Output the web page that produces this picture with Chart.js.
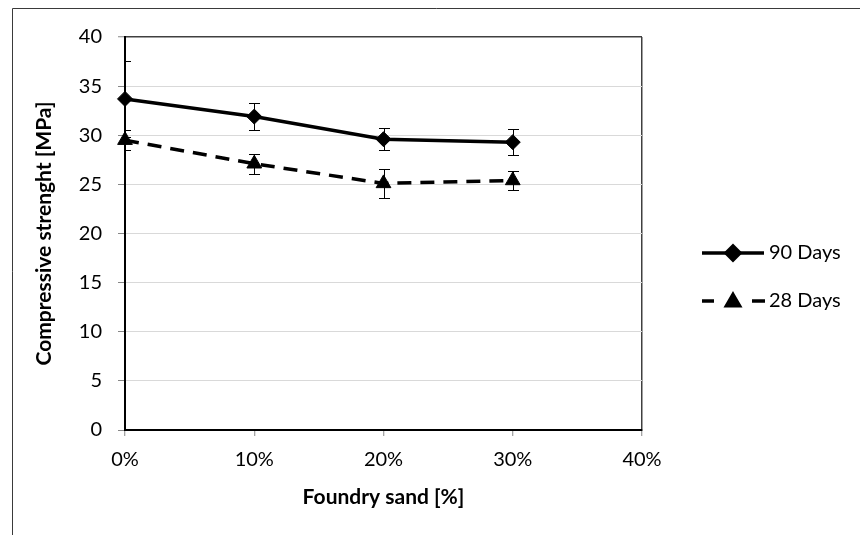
<!DOCTYPE html>
<html>
<head>
<meta charset="utf-8">
<script src="https://cdn.jsdelivr.net/npm/chart.js@4.4.0/dist/chart.umd.min.js"></script>
<style>
  html, body { margin: 0; padding: 0; background: #fff; }
  canvas { display: block; }
</style>
</head>
<body>
<canvas id="grafica" width="860" height="535"></canvas>
<script>
// foundry sand content (fraction) and tick labels
var arena = [0, 0.1, 0.2, 0.3];
var etiquetasX = ['0%', '10%', '20%', '30%', '40%'];

// compressive strength [MPa] and error bars
var dias90 = [33.7, 31.9, 29.6, 29.3];
var error90 = [3.9, 1.4, 1.15, 1.35];
var dias28 = [29.5, 27.1, 25.1, 25.4];
var error28 = [1.0, 1.0, 1.5, 1.0];

var fuente = 'Lato, "Open Sans", sans-serif';

function puntos(valores, errores) {
    return arena.map(function (x, i) {
        return { x: x, y: valores[i], err: errores[i] };
    });
}

// error bars, clipped to the plot area like in the original
var barrasError = {
    id: 'barrasError',
    afterDatasetsDraw: function (chart) {
        var ctx = chart.ctx;
        var area = chart.chartArea;
        var xs = chart.scales.x, ys = chart.scales.y;
        ctx.save();
        ctx.beginPath();
        ctx.rect(area.left, area.top, area.right - area.left, area.bottom - area.top);
        ctx.clip();
        ctx.strokeStyle = '#000';
        ctx.lineWidth = 1;
        chart.data.datasets.forEach(function (ds) {
            ds.data.forEach(function (p) {
                var px = Math.round(xs.getPixelForValue(p.x)) + 0.5;
                var y1 = Math.round(ys.getPixelForValue(p.y + p.err)) + 0.5;
                var y2 = Math.round(ys.getPixelForValue(p.y - p.err)) + 0.5;
                ctx.beginPath();
                ctx.moveTo(px, y1); ctx.lineTo(px, y2);
                ctx.moveTo(px - 5.5, y1); ctx.lineTo(px + 5.5, y1);
                ctx.moveTo(px - 5.5, y2); ctx.lineTo(px + 5.5, y2);
                ctx.stroke();
            });
        });
        ctx.restore();
    }
};

// legend on the right (line + marker + line) and the outer frame
var leyenda = {
    id: 'leyenda',
    afterDraw: function (chart) {
        var ctx = chart.ctx;
        var filas = [253, 301];
        ctx.save();
        chart.data.datasets.forEach(function (ds, i) {
            var y = filas[i];
            ctx.strokeStyle = '#000';
            ctx.lineWidth = 3.5;
            ctx.beginPath();
            if (ds.borderDash && ds.borderDash.length) {
                ctx.moveTo(702, y); ctx.lineTo(714, y);
                ctx.moveTo(752, y); ctx.lineTo(765, y);
            } else {
                ctx.moveTo(702, y); ctx.lineTo(764, y);
            }
            ctx.stroke();
            Chart.helpers.drawPoint(ctx, {
                pointStyle: ds.pointStyle,
                radius: ds.pointStyle === 'triangle' ? 7.5 : 7,
                borderWidth: 1
            }, 733, y + (ds.pointStyle === 'triangle' ? 1 : 0));
            ctx.fillStyle = '#000';
            ctx.font = '20px ' + fuente;
            ctx.textBaseline = 'middle';
            ctx.textAlign = 'left';
            ctx.fillText(ds.label, 769, y);
        });
        // outer frame
        ctx.strokeStyle = '#3a3a3a';
        ctx.lineWidth = 1;
        ctx.beginPath();
        ctx.moveTo(12.5, 535);
        ctx.lineTo(12.5, 8.5);
        ctx.lineTo(860, 8.5);
        ctx.stroke();
        ctx.restore();
    }
};

var ctx = document.getElementById('grafica').getContext('2d');
var grafica = new Chart(ctx, {
    type: 'line',
    data: {
        datasets: [{
            label: '90 Days',
            data: puntos(dias90, error90),
            borderColor: '#000',
            backgroundColor: '#000',
            borderWidth: 3.5,
            pointStyle: 'rectRot',
            pointRadius: 7.5,
            pointBackgroundColor: '#000',
            pointBorderColor: '#000',
            pointBorderWidth: 1,
            clip: false
        }, {
            label: '28 Days',
            data: puntos(dias28, error28),
            borderColor: '#000',
            backgroundColor: '#000',
            borderWidth: 3.5,
            borderDash: [14, 9],
            pointStyle: 'triangle',
            pointRadius: 8.5,
            pointBackgroundColor: '#000',
            pointBorderColor: '#000',
            pointBorderWidth: 1,
            clip: false
        }]
    },
    options: {
        responsive: false,
        animation: false,
        devicePixelRatio: 1,
        layout: { padding: { top: 37, right: 218, left: 0, bottom: 0 } },
        plugins: {
            legend: { display: false },
            tooltip: { enabled: false }
        },
        scales: {
            x: {
                type: 'linear',
                min: 0,
                max: 0.4,
                afterFit: function (s) { s.height = 105; },
                afterBuildTicks: function (s) {
                    s.ticks = etiquetasX.map(function (t, i) { return { value: i / 10 }; });
                },
                ticks: {
                    color: '#000',
                    font: { family: fuente, size: 20 },
                    padding: 12,
                    maxRotation: 0,
                    callback: function (v, i) { return etiquetasX[i]; }
                },
                grid: {
                    color: function (c) { return c.tick && c.tick.value === 0.4 ? '#404040' : 'rgba(0,0,0,0)'; },
                    lineWidth: 1.5,
                    tickColor: '#868686',
                    tickLength: 6,
                    tickWidth: 1
                },
                border: { display: true, color: '#000', width: 2 },
                title: {
                    display: true,
                    text: 'Foundry sand [%]',
                    color: '#000',
                    font: { family: fuente, size: 21, weight: 'bold' },
                    padding: { top: 0, bottom: 25 }
                }
            },
            y: {
                min: 0,
                max: 40,
                afterFit: function (s) { s.width = 125; },
                ticks: {
                    stepSize: 5,
                    color: '#000',
                    font: { family: fuente, size: 20 },
                    padding: 16
                },
                grid: {
                    color: function (c) { return c.tick && c.tick.value === 40 ? '#404040' : '#d9d9d9'; },
                    lineWidth: function (c) { return c.tick && c.tick.value === 40 ? 1.5 : 1; },
                    tickColor: '#868686',
                    tickLength: 7,
                    tickWidth: 1
                },
                border: { display: true, color: '#000', width: 2 },
                title: {
                    display: true,
                    text: 'Compressive strenght [MPa]',
                    color: '#000',
                    font: { family: fuente, size: 21, weight: 'bold' },
                    padding: { top: 32, bottom: 0 }
                }
            }
        }
    },
    plugins: [barrasError, leyenda]
});
</script>
</body>
</html>
